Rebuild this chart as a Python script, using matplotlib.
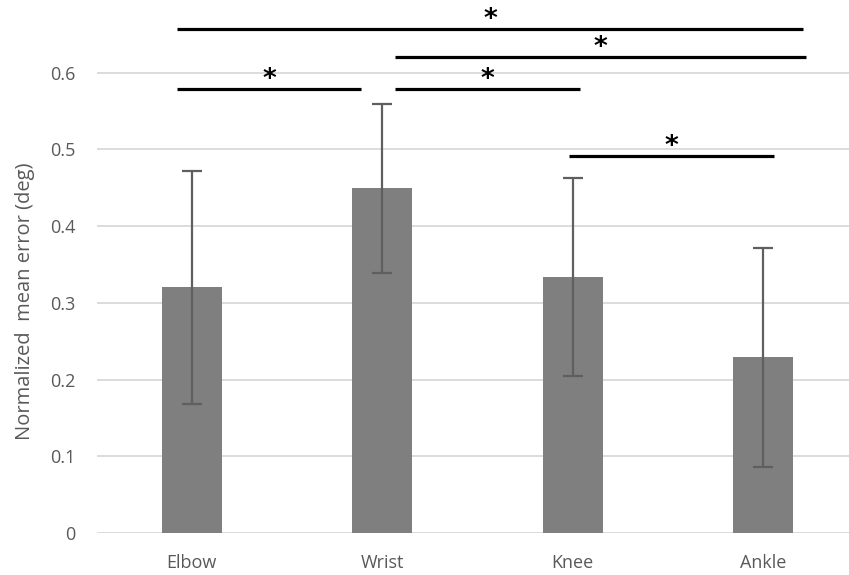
import numpy as np
import matplotlib
matplotlib.use('Agg')
import matplotlib.pyplot as plt

plt.rcParams['font.family'] = ['Open Sans', 'DejaVu Sans']

joints = ['Elbow', 'Wrist', 'Knee', 'Ankle']
mean_err = [0.320, 0.449, 0.333, 0.229]
sd_err = [0.152, 0.110, 0.129, 0.143]
y_ticks = [0, 0.1, 0.2, 0.3, 0.4, 0.5, 0.6]
y_tick_labels = ['0', '0.1', '0.2', '0.3', '0.4', '0.5', '0.6']

# significance brackets: (x start, x end, height)
sig_start = [-0.076, 1.065, -0.076, 1.068, 1.98]
sig_end = [3.211, 3.224, 0.891, 2.037, 3.057]
sig_y = [0.657, 0.620, 0.578, 0.578, 0.491]

fig = plt.figure(figsize=(8.49, 5.75), dpi=100)
ax = fig.add_axes([0.1137, 0.073, 0.8863, 0.927])

x = np.arange(len(joints))
ax.bar(x, mean_err, width=0.315, color='#7f7f7f', zorder=2)
ax.errorbar(x, mean_err, yerr=sd_err, fmt='none', ecolor='#5f5f5f',
            elinewidth=1.6, capsize=7, capthick=1.6, zorder=3)

for y in y_ticks:
    ax.axhline(y, color='#d9d9d9', lw=1.3, zorder=1)

for xs, xe, yy in zip(sig_start, sig_end, sig_y):
    ax.plot([xs, xe], [yy, yy], color='black', lw=2.3, solid_capstyle='butt',
            clip_on=False, zorder=4)
    ax.annotate('*', xy=((xs + xe) / 2, yy), xytext=(0, 1.5),
                textcoords='offset points', ha='center', va='baseline',
                fontsize=19, fontweight='bold', family='DejaVu Sans',
                annotation_clip=False)

ax.set_xlim(-0.5, 3.452)
ax.set_ylim(0, 0.6945)
ax.set_xticks(x)
ax.set_xticklabels(joints)
ax.set_yticks(y_ticks)
ax.set_yticklabels(y_tick_labels)
ax.tick_params(axis='both', length=0, labelsize=13, colors='#595959')
ax.tick_params(axis='y', pad=15)
ax.tick_params(axis='x', pad=15)
for s in ax.spines.values():
    s.set_visible(False)

ax.set_ylabel('Normalized  mean error (deg)', fontsize=14.5, color='#595959')
ax.yaxis.set_label_coords(-0.082, 0.435)

plt.savefig('out.png', dpi=100)
